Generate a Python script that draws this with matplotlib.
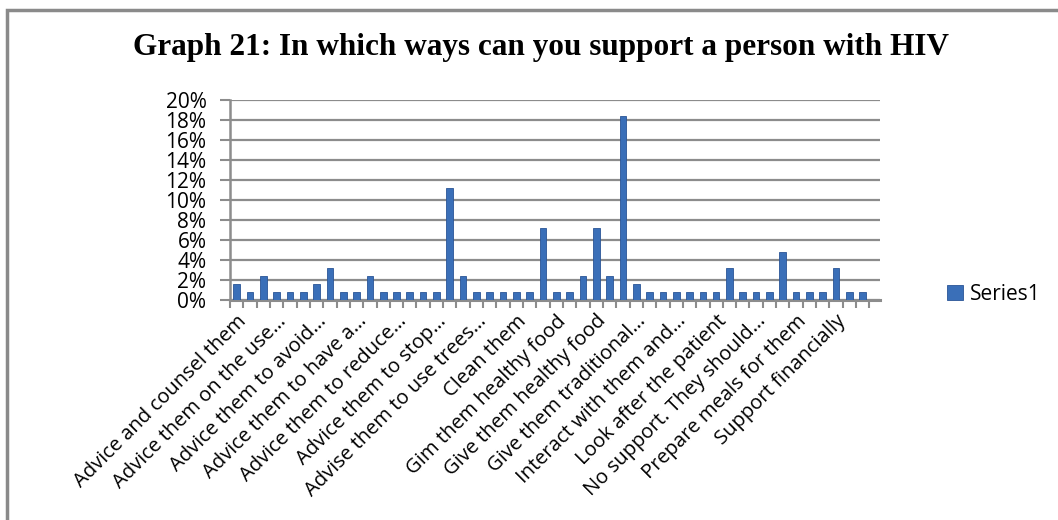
import matplotlib
matplotlib.use("Agg")
import matplotlib.pyplot as plt
import numpy as np
from matplotlib.patches import Rectangle

# share of answers (%) for each of the 48 response categories
values = [1.6, 0.8, 2.4, 0.8, 0.8, 0.8, 1.6, 3.2, 0.8, 0.8, 2.4, 0.8,
          0.8, 0.8, 0.8, 0.8, 11.2, 2.4, 0.8, 0.8, 0.8, 0.8, 0.8, 7.2,
          0.8, 0.8, 2.4, 7.2, 2.4, 18.4, 1.6, 0.8, 0.8, 0.8, 0.8, 0.8,
          0.8, 3.2, 0.8, 0.8, 0.8, 4.8, 0.8, 0.8, 0.8, 3.2, 0.8, 0.8]

# only every third category gets a label on the axis
shown_labels = ["Advice and counsel them", "Advice them on the use…",
                "Advice them to avoid…", "Advice them to have a…",
                "Advice them to reduce…", "Advice them to stop…",
                "Advise them to use trees…", "Clean them",
                "Gim them healthy food", "Give them healthy food",
                "Give them traditional…", "Interact with them and…",
                "Look after the patient", "No support. They should…",
                "Prepare meals for them", "Support financially"]

y_ticks = list(range(0, 21, 2))
title = "Graph 21: In which ways can you support a person with HIV"
series_name = "Series1"

bar_color = "#3A6FB8"
grid_color = "#8C8C8C"
font = "Open Sans"

fig = plt.figure(figsize=(10.58, 5.2), dpi=100)

# outer chart frame
fig.patches.append(Rectangle((7 / 1058, -0.05), 1.1, 1 - 10 / 520 + 0.05,
                             transform=fig.transFigure, fill=False,
                             edgecolor="#8A8A8A", linewidth=2.5))

ax = fig.add_axes([230 / 1058, 220 / 520, 650 / 1058, 200 / 520])

x = np.arange(len(values))
ax.bar(x, values, width=0.5, color=bar_color, edgecolor="#2A5596",
       linewidth=0.6, zorder=3, label=series_name)

ax.set_xlim(-0.5, 48.3)
ax.set_ylim(0, 20)
ax.set_yticks(y_ticks)
ax.set_yticklabels([f"{t}%" for t in y_ticks], fontsize=15, family=font)
ax.yaxis.grid(True, color=grid_color, linewidth=1.6, zorder=0)
ax.set_axisbelow(True)

# category ticks between bars, labels at every third bar
ax.set_xticks(np.arange(0, len(values), 3))
ax.set_xticklabels(shown_labels, rotation=45, ha="right",
                   rotation_mode="anchor", fontsize=14.5, family=font)
ax.tick_params(axis="x", which="major", length=0, pad=8)
ax.set_xticks(np.arange(-0.5, len(values), 1), minor=True)
ax.tick_params(axis="x", which="minor", length=6, width=1.5, color=grid_color)
ax.tick_params(axis="y", length=7, width=1.5, color=grid_color, pad=10)

for side in ["top", "right"]:
    ax.spines[side].set_visible(False)
ax.spines["left"].set_color(grid_color)
ax.spines["left"].set_linewidth(1.8)
ax.spines["bottom"].set_color(grid_color)
ax.spines["bottom"].set_linewidth(2.2)

fig.text(541 / 1058, 1 - 47 / 520, title, ha="center", va="center",
         fontsize=22.5, fontweight="bold", family="Liberation Serif")

fig.legend(loc="center left", bbox_to_anchor=(947 / 1058, 1 - 294 / 520),
           frameon=False, handlelength=0.75, handleheight=0.75,
           handletextpad=0.35, borderpad=0, borderaxespad=0,
           prop={"family": font, "size": 15})

fig.savefig("out.png", dpi=100)
